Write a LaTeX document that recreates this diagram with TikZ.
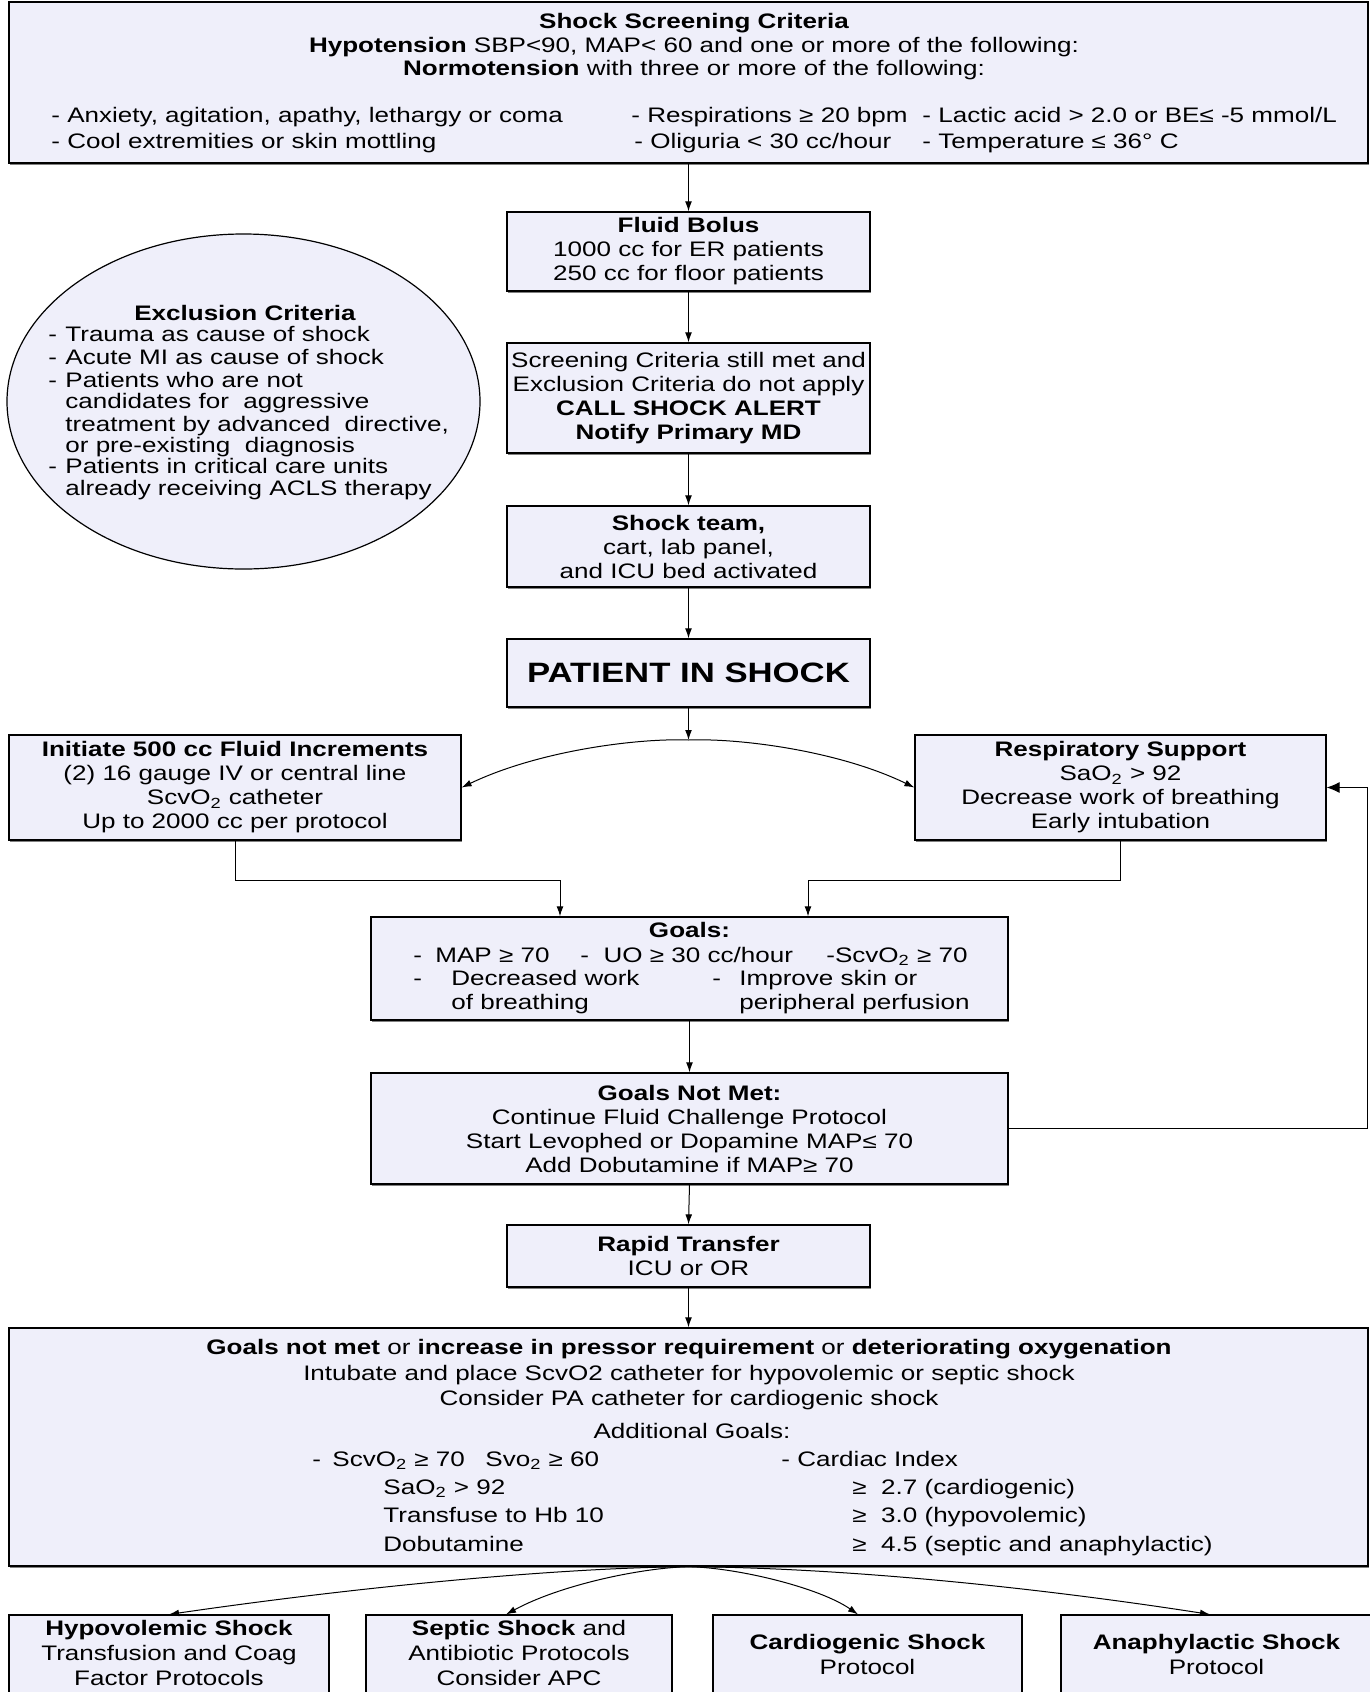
\documentclass[tikz,border=0pt]{standalone}
\usepackage{fontspec}
\setmainfont{Liberation Sans}[FakeStretch=1.24]
\usetikzlibrary{arrows.meta,shapes.geometric,shadows}
\definecolor{boxfill}{RGB}{239,239,250}
\tikzset{
 box/.style={draw=black, line width=0.6pt, fill=boxfill, inner sep=0pt, align=center,
   font=\fontsize{10.5}{12}\selectfont,
   drop shadow={shadow xshift=0.5pt,shadow yshift=-0.8pt,fill=black!50,opacity=1}},
 txt/.style={inner sep=0pt, font=\fontsize{10.5}{12}\selectfont, text height=7.5pt, text depth=0pt},
 mtxt/.style={inner sep=0pt, align=center, font=\fontsize{10.5}{12.5}\selectfont},
 arr/.style={-{Latex[length=5pt,width=3.4pt]}, line width=0.5pt},
 bigarr/.style={-{Latex[length=6.5pt,width=5.5pt]}, line width=0.5pt},
}
\begin{document}
\begin{tikzpicture}[x=0.5pt,y=-0.5pt]
\useasboundingbox (0,0) rectangle (1370,1692);
\clip (0,0) rectangle (1370,1692);

% ---- screening criteria
\node[box, minimum width=679.5pt, minimum height=80.5pt] (scr) at (688.5,82.5) {};
\node[txt] (s1) at (694,20.5) {\bfseries Shock Screening Criteria};
\node[txt] (s2) at (694,45) {\textbf{Hypotension} SBP<90, MAP< 60 and one or more of the following:};
\node[txt] (s3) at (694,68) {\textbf{Normotension} with three or more of the following:};
\node[txt,anchor=west] (s4) at (51,115) {- Anxiety, agitation, apathy, lethargy or coma};
\node[txt,anchor=west] (s5) at (631,115) {- Respirations ≥ 20 bpm};
\node[txt,anchor=west] (s6) at (922,115) {- Lactic acid > 2.0 or BE≤ -5 mmol/L};
\node[txt,anchor=west] (s7) at (51,141) {- Cool extremities or skin mottling};
\node[txt,anchor=west] (s8) at (634,141) {- Oliguria < 30 cc/hour};
\node[txt,anchor=west] (s9) at (922,141) {- Temperature ≤ 36° C};

% ---- central column
\node[box, minimum width=181.5pt, minimum height=39.5pt] (fb) at (688.5,251.5)
  {\textbf{Fluid Bolus}\\1000 cc for ER patients\\250 cc for floor patients};
\node[box, minimum width=181.5pt, minimum height=55pt] (sca) at (688.5,398)
  {Screening Criteria still met and\\Exclusion Criteria do not apply\\\textbf{CALL SHOCK ALERT}\\\textbf{Notify Primary MD}};
\node[box, minimum width=181.5pt, minimum height=40.5pt] (team) at (688.5,546.5)
  {\textbf{Shock team,}\\cart, lab panel,\\and ICU bed activated};
\node[box, minimum width=181.5pt, minimum height=34pt] (pis) at (688.5,673)
  {\fontsize{14}{16}\selectfont\bfseries PATIENT IN SHOCK};

% ---- exclusion ellipse
\node[ellipse, draw=black, line width=0.6pt, fill=boxfill, minimum width=236.5pt, minimum height=167.5pt, inner sep=0pt] (excl) at (243.5,401.5) {};
\node[txt] (e0) at (245,313) {\bfseries Exclusion Criteria};
\foreach \yy [count=\i] in {334,357,380,466}
  \node[txt,anchor=west] (ed\i) at (48,\yy) {-};
\foreach \yy/\itemtext [count=\i] in {334/{Trauma as cause of shock},357/{Acute MI as cause of shock},380/{Patients who are not},401/{candidates for\ \ aggressive},424/{treatment by advanced\ \ directive,},445/{or pre-existing\ \ diagnosis},466/{Patients in critical care units},488/{already receiving ACLS therapy}}
  \node[txt,anchor=west] (et\i) at (65,\yy) {\itemtext};

% ---- second level
\node[box, minimum width=226pt, minimum height=52.5pt] (init) at (235,787.5)
  {\textbf{Initiate 500 cc Fluid Increments}\\(2) 16 gauge IV or central line\\ScvO\textsubscript{2} catheter\\Up to 2000 cc per protocol};
\node[box, minimum width=205.5pt, minimum height=52.5pt] (resp) at (1120.5,787.5)
  {\textbf{Respiratory Support}\\SaO\textsubscript{2} > 92\\Decrease work of breathing\\Early intubation};

% ---- goals
\node[box, minimum width=318.5pt, minimum height=51.5pt] (goals) at (689.5,968.5) {};
\node[txt] (g0) at (689.5,930) {\bfseries Goals:};
\node[txt,anchor=west] (g1) at (413,955) {-};
\node[txt,anchor=west] (g2) at (435,955) {MAP ≥ 70};
\node[txt,anchor=west] (g3) at (580,955) {-\ \ UO ≥ 30 cc/hour};
\node[txt,anchor=west] (g4) at (826,955) {-ScvO\textsubscript{2} ≥ 70};
\node[txt,anchor=west] (g5) at (413,978) {-};
\node[txt,anchor=west] (g6) at (451,978) {Decreased work};
\node[txt,anchor=west] (g7) at (712,978) {-};
\node[txt,anchor=west] (g8) at (739,978) {Improve skin or};
\node[txt,anchor=west] (g9) at (451,1002) {of breathing};
\node[txt,anchor=west] (g10) at (739,1002) {peripheral perfusion};

\node[box, minimum width=318.5pt, minimum height=55.5pt] (gnm) at (689.5,1128.5)
  {\textbf{Goals Not Met:}\\Continue Fluid Challenge Protocol\\Start Levophed or Dopamine MAP≤ 70\\Add Dobutamine if MAP≥ 70};
\node[box, minimum width=181.5pt, minimum height=31pt] (rapid) at (688.5,1256)
  {\textbf{Rapid Transfer}\\ICU or OR};

% ---- big box
\node[box, minimum width=679.5pt, minimum height=119pt] (big) at (688.5,1447) {};
\node[txt] (b1) at (689,1347) {\textbf{Goals not met} or \textbf{increase in pressor requirement} or \textbf{deteriorating oxygenation}};
\node[txt] (b2) at (689,1373) {Intubate and place ScvO2 catheter for hypovolemic or septic shock};
\node[txt] (b3) at (689,1398) {Consider PA catheter for cardiogenic shock};
\node[txt] (b4) at (692,1431) {Additional Goals:};
\node[txt,anchor=west] (b5a) at (312,1459) {-};
\node[txt,anchor=west] (b5) at (332,1459) {ScvO\textsubscript{2} ≥ 70};
\node[txt,anchor=west] (b5b) at (485,1459) {Svo\textsubscript{2} ≥ 60};
\node[txt,anchor=west] (b6) at (781,1459) {- Cardiac Index};
\node[txt,anchor=west] (b7) at (383,1487) {SaO\textsubscript{2} > 92};
\node[txt,anchor=west] (b8) at (852,1487) {≥\ \ 2.7 (cardiogenic)};
\node[txt,anchor=west] (b9) at (383,1515) {Transfuse to Hb 10};
\node[txt,anchor=west] (b10) at (852,1515) {≥\ \ 3.0 (hypovolemic)};
\node[txt,anchor=west] (b11) at (383,1544) {Dobutamine};
\node[txt,anchor=west] (b12) at (852,1544) {≥\ \ 4.5 (septic and anaphylactic)};

% ---- bottom boxes
\node[box, minimum width=160pt, minimum height=52.5pt] (hypo) at (169,1667.5) {};
\node[box, minimum width=153pt, minimum height=52.5pt] (sep) at (519,1667.5) {};
\node[box, minimum width=154.5pt, minimum height=52.5pt] (card) at (867.5,1667.5) {};
\node[box, minimum width=155.5pt, minimum height=52.5pt] (ana) at (1216.5,1667.5) {};
\node[mtxt] (hypot) at (169,1653) {\textbf{Hypovolemic Shock}\\Transfusion and Coag\\Factor Protocols};
\node[mtxt] (sept) at (519,1653) {\textbf{Septic Shock} and\\Antibiotic Protocols\\Consider APC};
\node[mtxt] (cardt) at (867.5,1654.5) {\textbf{Cardiogenic Shock}\\Protocol};
\node[mtxt] (anat) at (1216.5,1654.5) {\textbf{Anaphylactic Shock}\\Protocol};

% ---- connectors
\draw[arr] (scr.south) -- (fb.north);
\draw[arr] (fb.south) -- (sca.north);
\draw[arr] (sca.south) -- (team.north);
\draw[arr] (team.south) -- (pis.north);
\coordinate (split) at (688.5,740);
\draw[arr] (pis.south) -- (split);
\draw[arr] (split) .. controls (640,738) and (540,750) .. (init.east);
\draw[arr] (split) .. controls (737,738) and (837,750) .. (resp.west);
\draw[arr] (init.south) -- ++(0,40) -| ([xshift=-64.75pt]goals.north);
\draw[arr] (resp.south) -- ++(0,40) -| ([xshift=59.25pt]goals.north);
\draw[arr] (goals.south) -- (gnm.north);
\draw[bigarr] (gnm.east) -- ++(359,0) |- (resp.east);
\draw[arr] (gnm.south) -- (rapid.north);
\draw[arr] (rapid.south) -- (big.north);
\coordinate (split2) at (big.south);
\draw[arr] (split2) .. controls (550,1568) and (350,1588) .. (hypo.north);
\draw[arr] (split2) .. controls (640,1568) and (560,1585) .. ([xshift=-6.5pt]sep.north);
\draw[arr] (split2) .. controls (740,1568) and (820,1588) .. ([xshift=-4.75pt]card.north);
\draw[arr] (split2) .. controls (850,1568) and (1040,1588) .. ([xshift=-3.25pt]ana.north);
\end{tikzpicture}
\end{document}
